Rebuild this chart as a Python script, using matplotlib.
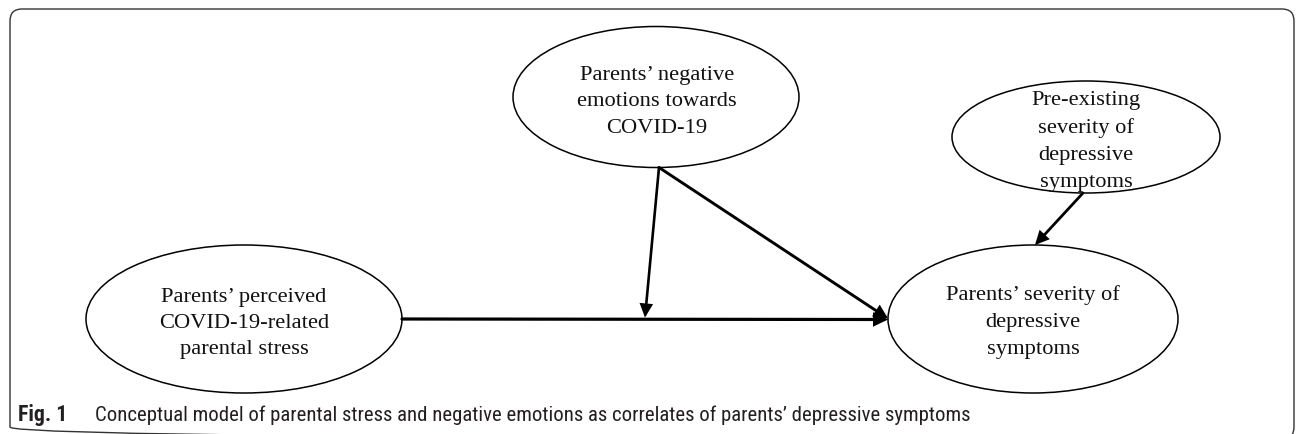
import matplotlib
matplotlib.use("Agg")
import matplotlib.pyplot as plt
from matplotlib.patches import Ellipse, FancyArrowPatch, FancyBboxPatch
from matplotlib import font_manager

# ---------------- data ----------------
label_stress = ["Parents\u2019 perceived", "COVID-19-related", "parental stress"]
label_emotions = ["Parents\u2019 negative", "emotions towards", "COVID-19"]
label_pre = ["Pre-existing", "severity of", "depressive", "symptoms"]
label_depress = ["Parents\u2019 severity of", "depressive", "symptoms"]
edges = [("stress", "depress"), ("emotions", "depress"), ("pre", "depress")]
moderation = ("emotions", ("stress", "depress"))
caption_bold = "Fig. 1"
caption_text = ("Conceptual model of parental stress and negative emotions as "
                "correlates of parents\u2019 depressive symptoms")

# ---------------- layout (pixels) ----------------
W, H = 1296, 434
layout = {
    "stress":   dict(cx=244,  cy=319, w=316, h=148, base=302, step=26),
    "emotions": dict(cx=656,  cy=97,  w=286, h=141, base=80,  step=26.5),
    "pre":      dict(cx=1086, cy=137, w=268, h=112, base=105, step=27.5),
    "depress":  dict(cx=1033, cy=319, w=290, h=148, base=300, step=27),
}
labels = {"stress": label_stress, "emotions": label_emotions,
          "pre": label_pre, "depress": label_depress}

fig = plt.figure(figsize=(W / 100, H / 100), dpi=100)
ax = fig.add_axes([0, 0, 1, 1])
ax.set_xlim(0, W)
ax.set_ylim(H, 0)
ax.axis("off")

# frame
frame = FancyBboxPatch((10, 9), 1284, 430, boxstyle="round,pad=0,rounding_size=12",
                       fill=False, edgecolor="#333333", linewidth=1.0, clip_on=False)
ax.add_patch(frame)

serif = "Liberation Serif"
for key, L in layout.items():
    ax.add_patch(Ellipse((L["cx"], L["cy"]), L["w"], L["h"], fill=False,
                         edgecolor="black", linewidth=1.1))
    for i, line in enumerate(labels[key]):
        ax.text(L["cx"] + (1 if key == "emotions" else 0), L["base"] + i * L["step"], line,
                ha="center", va="baseline", fontfamily=serif, fontsize=16.2,
                color="#111111")


def arrow(p0, p1, lw=2.0):
    a = FancyArrowPatch(p0, p1, arrowstyle="-|>,head_length=7,head_width=3.4",
                        mutation_scale=1, shrinkA=0, shrinkB=0,
                        linewidth=lw, color="black", joinstyle="miter")
    ax.add_patch(a)


def right_pt(k):
    L = layout[k]; return (L["cx"] + L["w"] / 2, L["cy"])


def left_pt(k):
    L = layout[k]; return (L["cx"] - L["w"] / 2, L["cy"])


def bottom_pt(k, dx=0):
    L = layout[k]; return (L["cx"] + dx, L["cy"] + L["h"] / 2)


def top_pt(k, dx=0):
    L = layout[k]; return (L["cx"] + dx, L["cy"] - L["h"] / 2)


# direct path stress -> depress
p_start = right_pt("stress")
p_end = left_pt("depress")
arrow(p_start, (p_end[0], p_end[1] + 0.5), lw=2.3)
# emotions -> depress
arrow(bottom_pt("emotions", 3), (p_end[0], p_end[1] - 0.5), lw=2.1)
# pre -> depress
arrow(bottom_pt("pre", -3), top_pt("depress", 2), lw=2.0)
# moderation arrow onto path midpoint
mid = ((p_start[0] + p_end[0]) / 2, p_start[1] - 1.5)
arrow(bottom_pt("emotions", 3), mid, lw=1.9)

# ---------------- caption ----------------
cap_family, cap_stretch = "Open Sans", "normal"
for fam, st in [("Liberation Sans Narrow", "normal"), ("Roboto Condensed", "normal"),
                ("Open Sans Condensed", "normal")]:
    if any(f.name == fam for f in font_manager.fontManager.ttflist):
        cap_family, cap_stretch = fam, st
        break
else:
    if any(f.name == "DejaVu Sans" and "condensed" in str(f.stretch)
           for f in font_manager.fontManager.ttflist):
        cap_family, cap_stretch = "DejaVu Sans", "condensed"

cap_y = 421
t1 = ax.text(18, cap_y, caption_bold, ha="left", va="baseline", fontfamily=cap_family,
             fontstretch=cap_stretch, fontweight="bold", fontsize=14, color="#231f20")
t2 = ax.text(95, cap_y, caption_text, ha="left", va="baseline", fontfamily=cap_family,
             fontstretch=cap_stretch, fontsize=14, color="#231f20")
r = fig.canvas.get_renderer()
w2 = t2.get_window_extent(r).width
fs = 14 * 880 / w2
t2.set_fontsize(fs)
t1.set_fontsize(fs)
w1 = t1.get_window_extent(r).width
if w1 > 0:
    t1.set_fontsize(min(fs * 1.05, fs * 64 / w1))

fig.savefig("out.png", dpi=100)
